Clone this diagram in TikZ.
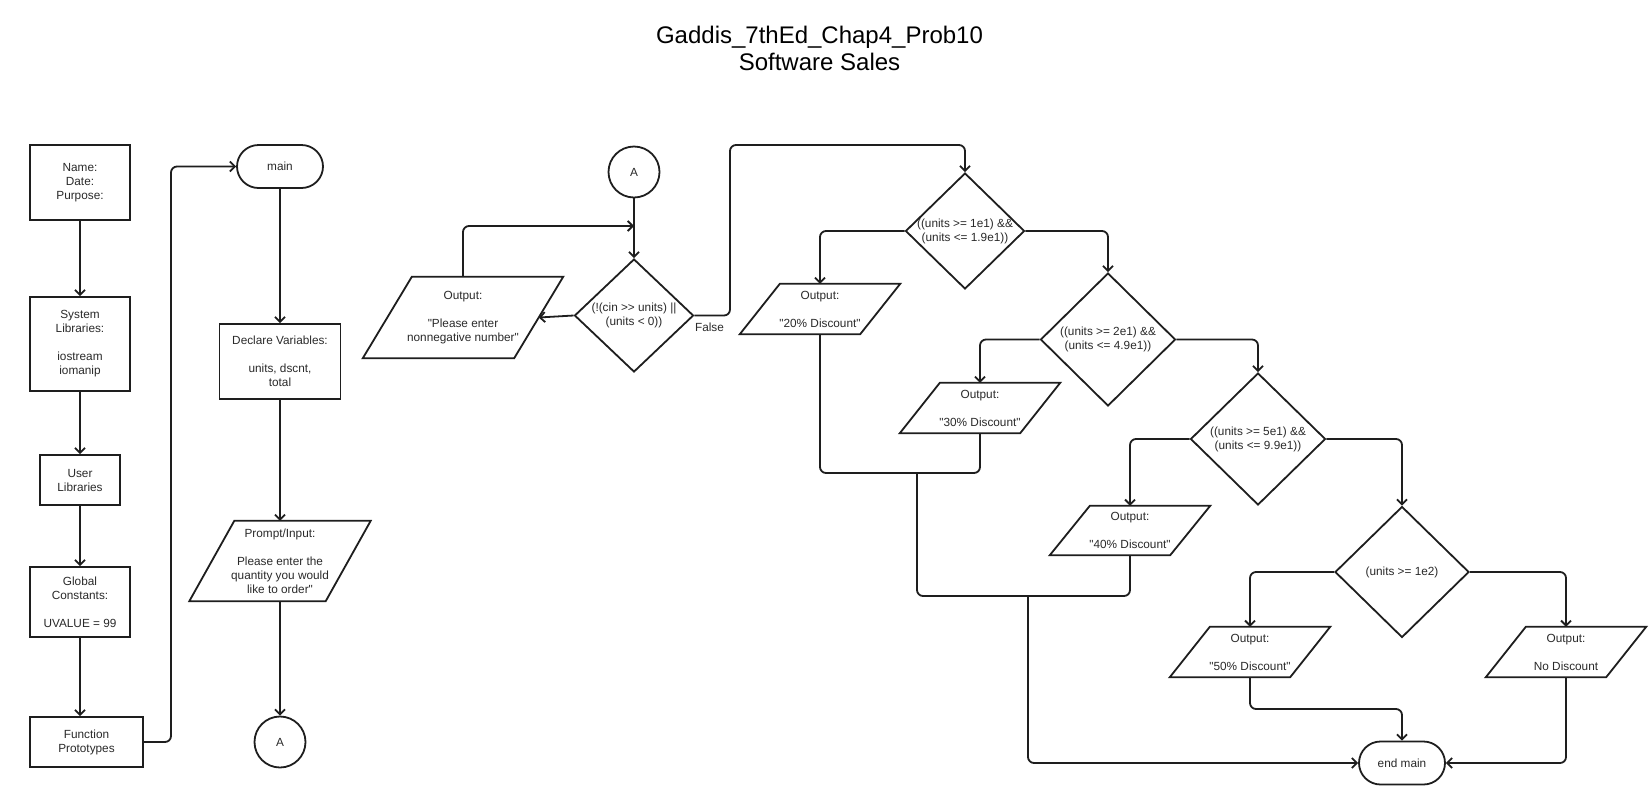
\documentclass[tikz,border=0pt]{standalone}
\usepackage{fontspec}
\setmainfont{Liberation Sans}
\newfontfamily\arialf{Liberation Sans}
\usetikzlibrary{shapes.geometric,arrows.meta}
\definecolor{ln}{HTML}{1E1E1E}
\definecolor{tx}{HTML}{2A2A2A}
\begin{document}
\begin{tikzpicture}[x=1pt,y=-1pt,
  every node/.style={text=tx, font=\arialf\fontsize{11.8}{14}\selectfont, align=center, inner sep=0pt},
  proc/.style={draw=ln, line width=1.8pt, rectangle},
  term/.style={draw=ln, line width=1.8pt, rectangle, rounded corners=21.5pt, minimum width=86pt, minimum height=43pt},
  conn/.style={draw=ln, line width=1.8pt, circle, minimum size=51pt},
  dec/.style={draw=ln, line width=1.8pt, diamond},
  io/.style={append after command={\pgfextra{\draw[draw=ln, line width=1.8pt, line join=miter]
     ([xshift=#1]\tikzlastnode.north west) -- ([xshift=#1]\tikzlastnode.north east) --
     ([xshift=-#1]\tikzlastnode.south east) -- ([xshift=-#1]\tikzlastnode.south west) -- cycle;}}},
  flow/.style={draw=ln, line width=1.8pt, rounded corners=6pt, -{Straight Barb[length=5pt,width=10pt]}},
  link/.style={draw=ln, line width=1.8pt, rounded corners=6pt},
]
\fill[white] (0,0) rectangle (1651,804);
\useasboundingbox (0,0) rectangle (1651,804);

% title
\node[text=black, font=\arialf\fontsize{24}{27}\selectfont] (title) at (819.5,48.5) {Gaddis\_7thEd\_Chap4\_Prob10\\Software Sales};

% left column
\node[proc, minimum width=100pt, minimum height=75pt] (hdr) at (80,182.5) {Name:\\Date:\\Purpose:};
\node[proc, minimum width=100pt, minimum height=94pt] (syslib) at (80,344) {System\\Libraries:\\[14pt]iostream\\iomanip};
\node[proc, minimum width=80pt, minimum height=50pt] (userlib) at (80,480) {User\\Libraries};
\node[proc, minimum width=100pt, minimum height=70pt] (globc) at (80,602) {Global\\Constants:\\[14pt]UVALUE = 99};
\node[proc, minimum width=113pt, minimum height=50pt] (proto) at (86.5,742) {Function\\Prototypes};

% main column
\node[term] (main) at (280,166.5) {main};
\node[proc, minimum width=121pt, minimum height=75pt] (decl) at (280,361.5) {Declare Variables:\\[14pt]units, dscnt,\\total};
\node[io=22.5, minimum width=136pt, minimum height=80pt] (prompt) at (280,561) {Prompt/Input:\\[14pt]Please enter the\\quantity you would\\like to order"};
\node[conn] (conA1) at (280,742) {A};

% input validation
\node[conn] (conA2) at (634,172) {A};
\node[dec, minimum width=119pt, minimum height=113pt,
  label={[align=center]center:(!(cin >{}> units) ||\\(units < 0))}] (d1) at (634,315.5) {};
\node[io=24.5, minimum width=151pt, minimum height=81pt] (oerr) at (463,317.5) {Output:\\[14pt]"Please enter\\nonnegative number"};
\node (flbl) at (709.5,327) {False};

% discount decisions
\node[dec, minimum width=119pt, minimum height=116pt,
  label={[align=center]center:((units >= 1e1) \&\&\\(units <= 1.9e1))}] (d2) at (965,231) {};
\node[dec, minimum width=135pt, minimum height=133pt,
  label={[align=center]center:((units >= 2e1) \&\&\\(units <= 4.9e1))}] (d3) at (1108,339.5) {};
\node[dec, minimum width=135pt, minimum height=132pt,
  label={[align=center]center:((units >= 5e1) \&\&\\(units <= 9.9e1))}] (d4) at (1258,439) {};
\node[dec, minimum width=134pt, minimum height=131pt,
  label={[align=center]center:(units >= 1e2)}] (d5) at (1402,572) {};

\node[io=20, minimum width=120pt, minimum height=50pt] (o20) at (820,309) {Output:\\[14pt]"20\% Discount"};
\node[io=20, minimum width=120pt, minimum height=50pt] (o30) at (980,408) {Output:\\[14pt]"30\% Discount"};
\node[io=20, minimum width=120pt, minimum height=49pt] (o40) at (1130,530.5) {Output:\\[14pt]"40\% Discount"};
\node[io=20, minimum width=120pt, minimum height=50pt] (o50) at (1250,652) {Output:\\[14pt]"50\% Discount"};
\node[io=20, minimum width=120pt, minimum height=50pt] (onone) at (1566,652) {Output:\\[14pt]No Discount};
\node[term] (endmain) at (1402,763) {end main};

% coordinates for bends
\coordinate (k1) at (171,742);
\coordinate (k2) at (171,166.5);
\coordinate (m1) at (634,226);
\coordinate (k3) at (730,145);
\coordinate (j1) at (917,473);
\coordinate (j2) at (1028,596);
\coordinate (k5) at (1402,709);

% connectors
\draw[flow] (hdr) -- (syslib);
\draw[flow] (syslib) -- (userlib);
\draw[flow] (userlib) -- (globc);
\draw[flow] (globc.south) -- (globc.south |- proto.north);
\draw[flow] (proto.east) -- (k1) -- (k2) -- (main.west);
\draw[flow] (main) -- (decl);
\draw[flow] (decl) -- (prompt);
\draw[flow] (prompt) -- (conA1);

\draw[flow] (conA2) -- (d1);
\draw[flow] (d1.west) -- (oerr.east);
\draw[flow] (oerr.north) |- (m1);
\draw[flow] (d1.east) -| (k3) -| (d2.north);

\draw[flow] (d2.west) -| (o20.north);
\draw[flow] (d2.east) -| (d3.north);
\draw[flow] (d3.west) -| (o30.north);
\draw[flow] (d3.east) -| (d4.north);
\draw[flow] (d4.west) -| (o40.north);
\draw[flow] (d4.east) -| (d5.north);
\draw[flow] (d5.west) -| (o50.north);
\draw[flow] (d5.east) -| (onone.north);

\draw[link] (o20.south) |- (j1) -| (o30.south);
\draw[link] (j1) |- (j2) -| (o40.south);
\draw[flow] (j2) |- (endmain.west);
\draw[flow] (o50.south) |- (k5) -- (endmain.north);
\draw[flow] (onone.south) |- (endmain.east);
\end{tikzpicture}
\end{document}
